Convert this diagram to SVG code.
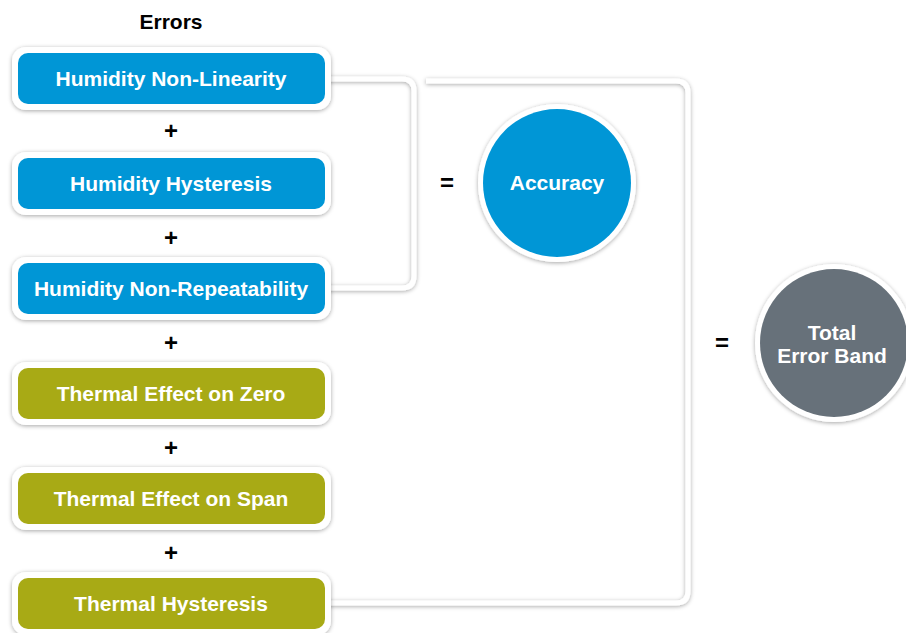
<svg xmlns="http://www.w3.org/2000/svg" width="906" height="633" viewBox="0 0 906 633">
<style>
.lbl{font-family:"Liberation Sans",Arial,sans-serif;font-weight:bold;font-size:21px;fill:#fff;text-anchor:middle}
.op{font-family:"Liberation Sans",Arial,sans-serif;font-weight:bold;font-size:24px;fill:#000;text-anchor:middle}
.title{font-family:"Liberation Sans",Arial,sans-serif;font-weight:bold;font-size:21px;fill:#000;text-anchor:middle}
.outer{fill:#fff;filter:url(#sh)}
.blue{fill:#0096d6}
.olive{fill:#a8aa15}
.grey{fill:#67717a}
.conn{fill:none;stroke:#fff;stroke-width:5;filter:url(#sh)}
</style>
<defs>
<filter id="sh" x="-20%" y="-20%" width="140%" height="140%">
<feDropShadow dx="0" dy="1" stdDeviation="2" flood-color="#000" flood-opacity="0.35"/>
</filter>
</defs>
<rect width="906" height="633" fill="#fff"/>
<text class="title" x="171" y="29">Errors</text>
<g id="connectors">
<path class="conn" d="M325,79 H402 Q414,79 414,91 V276 Q414,288 402,288 H325"/>
<path class="conn" d="M426,81 H676 Q688,81 688,93 V591 Q688,603 676,603 H325"/>
</g>
<g id="n1"><rect class="outer" x="12" y="47" width="319" height="63" rx="14"/><rect class="blue" x="18" y="53" width="307" height="51" rx="10"/><text class="lbl" x="171" y="86">Humidity Non-Linearity</text></g>
<g id="n2"><rect class="outer" x="12" y="152" width="319" height="63" rx="14"/><rect class="blue" x="18" y="158" width="307" height="51" rx="10"/><text class="lbl" x="171" y="191">Humidity Hysteresis</text></g>
<g id="n3"><rect class="outer" x="12" y="257" width="319" height="63" rx="14"/><rect class="blue" x="18" y="263" width="307" height="51" rx="10"/><text class="lbl" x="171" y="296">Humidity Non-Repeatability</text></g>
<g id="n4"><rect class="outer" x="12" y="362" width="319" height="63" rx="14"/><rect class="olive" x="18" y="368" width="307" height="51" rx="10"/><text class="lbl" x="171" y="401">Thermal Effect on Zero</text></g>
<g id="n5"><rect class="outer" x="12" y="467" width="319" height="63" rx="14"/><rect class="olive" x="18" y="473" width="307" height="51" rx="10"/><text class="lbl" x="171" y="506">Thermal Effect on Span</text></g>
<g id="n6"><rect class="outer" x="12" y="572" width="319" height="63" rx="14"/><rect class="olive" x="18" y="578" width="307" height="51" rx="10"/><text class="lbl" x="171" y="611">Thermal Hysteresis</text></g>
<g id="ops">
<text class="op" x="171" y="139">+</text>
<text class="op" x="171" y="246">+</text>
<text class="op" x="171" y="351">+</text>
<text class="op" x="171" y="456">+</text>
<text class="op" x="171" y="561">+</text>
<text class="op" x="447" y="191">=</text>
<text class="op" x="722" y="351">=</text>
</g>
<g id="accuracy"><circle class="outer" cx="557" cy="183" r="79"/><circle class="blue" cx="557" cy="183" r="74"/><text class="lbl" x="557" y="190">Accuracy</text></g>
<g id="total"><circle class="outer" cx="834" cy="343" r="79"/><circle class="grey" cx="834" cy="343" r="74"/><text class="lbl" x="832" y="340">Total</text><text class="lbl" x="832" y="363">Error Band</text></g>
</svg>
